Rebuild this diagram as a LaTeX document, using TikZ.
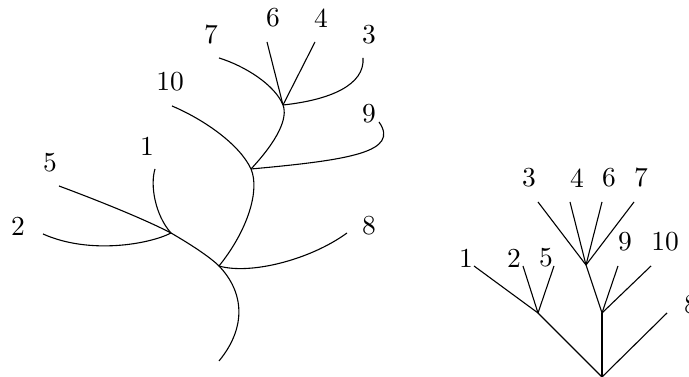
\documentclass[tikz,border=0pt]{standalone}
\usepackage{amsmath}
\usepackage{tikz}
\usetikzlibrary{positioning}

\begin{document}
\begin{tikzpicture}[
	x=0.364pt,
	y=-0.364pt,
	every node/.style={font=\normalsize},
	lbl/.style={
		inner sep=0pt,
		anchor=center
	},
	edge/.style={
		line width=0.4pt
	}
	]
	
	\useasboundingbox (0,0) rectangle (689,377);
	
	% Left tree: junctions and leaf ends
	\coordinate (lroot) at (219,361);
	\coordinate (lj1) at (219,266);
	\coordinate (lj2) at (251,169);
	\coordinate (lj3) at (283,105);
	\coordinate (lj4) at (171,233);
	
	\coordinate (la1) at (155,169);
	\coordinate (la2) at (43,234);
	\coordinate (la3) at (363,58);
	\coordinate (la4) at (315,42);
	\coordinate (la5) at (59,186);
	\coordinate (la6) at (267,42);
	\coordinate (la7) at (219,58);
	\coordinate (la8) at (347,233);
	\coordinate (la9) at (379,122);
	\coordinate (la10) at (172,106);
	
	% Left tree: labels
	\node[lbl] (lt1) at (147,146) {1};
	\node[lbl] (lt2) at (18,226) {2};
	\node[lbl] (lt3) at (369,35) {3};
	\node[lbl] (lt4) at (321,18) {4};
	\node[lbl] (lt5) at (50,163) {5};
	\node[lbl] (lt6) at (273,18) {6};
	\node[lbl] (lt7) at (211,35) {7};
	\node[lbl] (lt8) at (369,226) {8};
	\node[lbl] (lt9) at (369,114) {9};
	\node[lbl] (lt10) at (170,82) {10};
	
	% Left tree: branches
	\draw[edge] (la5) .. controls (110,205) and (150,222) .. (lj4)
		.. controls (190,244) and (210,257) .. (lj1)
		.. controls (244,292) and (247,327) .. (lroot);
	\draw[edge] (la10) .. controls (205,120) and (240,145) .. (lj2)
		.. controls (260,190) and (248,230) .. (lj1);
	\draw[edge] (la7) .. controls (245,66) and (275,85) .. (lj3)
		.. controls (288,118) and (278,140) .. (lj2);
	\draw[edge] (lj2) .. controls (350,160) and (400,152) .. (la9);
	\draw[edge] (lj1) .. controls (250,275) and (310,260) .. (la8);
	\draw[edge] (lj3) .. controls (330,100) and (365,85) .. (la3);
	\draw[edge] (lj3) -- (la6);
	\draw[edge] (lj3) -- (la4);
	\draw[edge] (la1) .. controls (150,185) and (155,215) .. (lj4);
	\draw[edge] (lj4) .. controls (150,244) and (90,255) .. (la2);
	
	% Right tree: junctions and leaf ends
	\coordinate (rroot) at (602,377);
	\coordinate (rj1) at (538,313);
	\coordinate (rj2) at (602,313);
	\coordinate (rj3) at (586,265);
	
	\coordinate (ra1) at (474,266);
	\coordinate (ra2) at (523,266);
	\coordinate (ra5) at (554,266);
	\coordinate (ra9) at (618,266);
	\coordinate (ra10) at (651,266);
	\coordinate (ra3) at (538,202);
	\coordinate (ra4) at (570,202);
	\coordinate (ra6) at (602,202);
	\coordinate (ra7) at (634,202);
	\coordinate (ra8) at (667,313);
	
	% Right tree: labels
	\node[lbl] (rt1) at (466,258) {1};
	\node[lbl] (rt2) at (514,258) {2};
	\node[lbl] (rt5) at (546,258) {5};
	\node[lbl] (rt9) at (625,242) {9};
	\node[lbl] (rt10) at (665,242) {10};
	\node[lbl] (rt3) at (529,178) {3};
	\node[lbl] (rt4) at (577,178) {4};
	\node[lbl] (rt6) at (609,178) {6};
	\node[lbl] (rt7) at (641,178) {7};
	\node[lbl] (rt8) at (691,305) {8};
	
	% Right tree: branches
	\draw[edge] (rroot) -- (rj1);
	\draw[edge] (rroot) -- (rj2);
	\draw[edge] (rroot) -- (ra8);
	\draw[edge] (rj1) -- (ra1);
	\draw[edge] (rj1) -- (ra2);
	\draw[edge] (rj1) -- (ra5);
	\draw[edge] (rj2) -- (rj3);
	\draw[edge] (rj2) -- (ra9);
	\draw[edge] (rj2) -- (ra10);
	\draw[edge] (rj3) -- (ra3);
	\draw[edge] (rj3) -- (ra4);
	\draw[edge] (rj3) -- (ra6);
	\draw[edge] (rj3) -- (ra7);
	
\end{tikzpicture}
\end{document}
